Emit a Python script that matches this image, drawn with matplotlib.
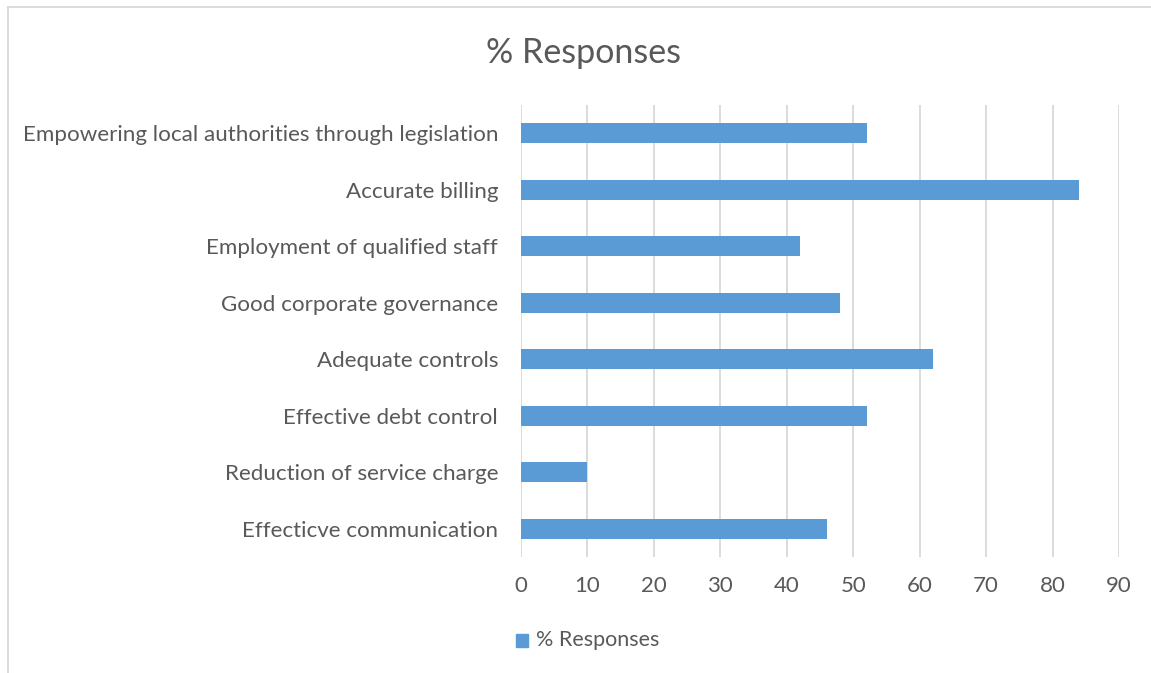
import matplotlib.pyplot as plt
from matplotlib.patches import Rectangle
from matplotlib.lines import Line2D

categories = ['Empowering local authorities through legislation', 'Accurate billing',
              'Employment of qualified staff', 'Good corporate governance',
              'Adequate controls', 'Effective debt control',
              'Reduction of service charge', 'Effecticve communication']
values = [52, 84, 42, 48, 62, 52, 10, 46]
series_name = '% Responses'
xticks = [0, 10, 20, 30, 40, 50, 60, 70, 80, 90]

plt.rcParams['font.family'] = ['Lato', 'DejaVu Sans']
bar_col = '#5b9bd5'
txt_col = '#595959'
grid_col = '#d9d9d9'

fig = plt.figure(figsize=(11.51, 6.73), dpi=100)
ax = fig.add_axes([521/1151, 1-557/673, (1119-521)/1151, (557-105)/673])

pos = list(range(len(categories)))[::-1]
ax.barh(pos, values, height=0.36, color=bar_col, zorder=3)
ax.set_yticks(pos)
ax.set_yticklabels(categories, fontsize=16.1, color=txt_col)
ax.set_xticks(xticks)
ax.set_xticklabels([str(t) for t in xticks], fontsize=16, color=txt_col)
ax.set_xlim(0, 90)
ax.set_ylim(-0.5, len(categories) - 0.5)
ax.tick_params(axis='both', length=0)
ax.tick_params(axis='y', pad=16.5)
ax.tick_params(axis='x', pad=14)
ax.grid(axis='x', color=grid_col, linewidth=1.3, zorder=0)
for s in ax.spines.values():
    s.set_visible(False)

fig.text(584/1151, 1-53/673, '% Responses', ha='center', va='center',
         fontsize=24.5, color=txt_col)

# legend
fig.patches.append(Rectangle((516/1151, 1-647/673), 12/1151, 13/673,
                             transform=fig.transFigure, color=bar_col))
fig.text(536/1151, 1-640/673, series_name, ha='left', va='center',
         fontsize=15.5, color=txt_col)

# chart border
fig.add_artist(Line2D([8/1151, 1], [1-7/673, 1-7/673], color='#d9d9d9', lw=1.3))
fig.add_artist(Line2D([8/1151, 8/1151], [0, 1-7/673], color='#d9d9d9', lw=1.3))

fig.savefig('out.png', dpi=100)
